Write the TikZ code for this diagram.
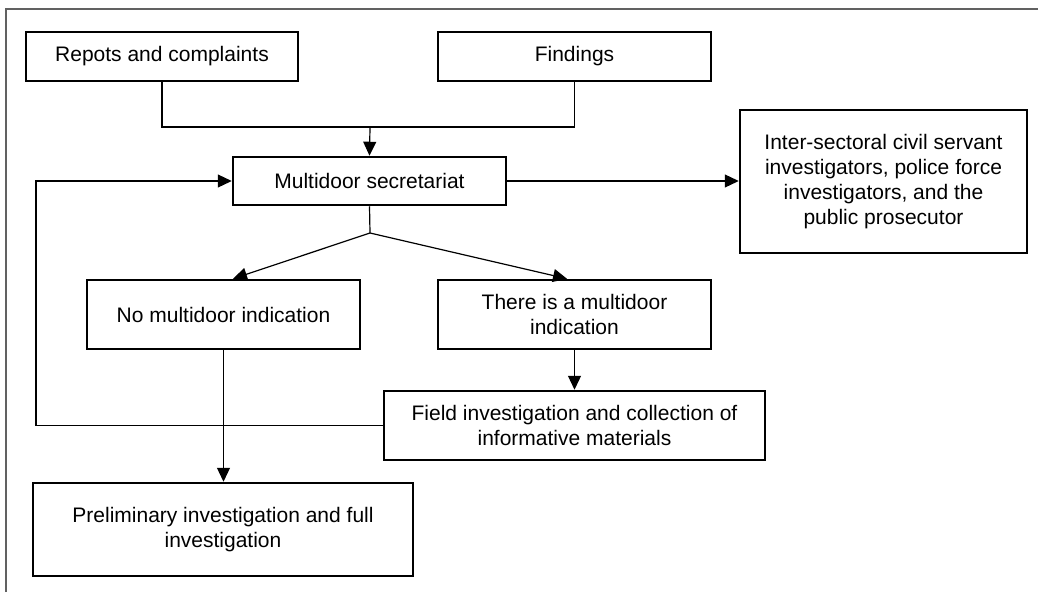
\documentclass[tikz,border=0pt]{standalone}
\usepackage{fontspec}
\setmainfont{Liberation Sans}
\usetikzlibrary{arrows.meta,calc}
\tikzset{
  box/.style={draw=black, line width=2.5pt, fill=white, inner sep=0pt,
    align=center, font=\fontsize{21}{25}\selectfont},
  link/.style={draw=black, line width=1.2pt},
  arr/.style={link, -{Triangle[length=14pt,width=13pt]}},
  frame/.style={draw=black!62, line width=1.7pt}
}
\begin{document}
\begin{tikzpicture}[x=1pt,y=-1pt]
\useasboundingbox (0,0) rectangle (1038,592);
\draw[frame] (6,592) -- (6,9) -- (1038,9);

% boxes
\node[box, minimum width=272pt, minimum height=49pt] (rep) at (162,56.5) {Repots and complaints};
\node[box, minimum width=273pt, minimum height=49pt] (find) at (574.5,56.5) {Findings};
\node[box, minimum width=273pt, minimum height=48pt] (ms) at (369.5,181) {Multidoor secretariat};
\node[box, minimum width=287pt, minimum height=143pt] (inter) at (883.5,181.5)
  {Inter-sectoral civil servant\\investigators, police force\\investigators, and the\\public prosecutor};
\node[box, minimum width=273pt, minimum height=69pt] (nomd) at (223.5,314.5) {No multidoor indication};
\node[box, minimum width=273pt, minimum height=69pt] (yesmd) at (574.5,314.5) {There is a multidoor\\indication};
\node[box, minimum width=381pt, minimum height=69pt] (field) at (574.5,425.5)
  {Field investigation and collection of\\informative materials};
\node[box, minimum width=380pt, minimum height=93pt] (prelim) at (223,529.5)
  {Preliminary investigation and full\\investigation};

% junction points
\coordinate (join) at (370,127);
\coordinate (split) at (370,233);
\coordinate (loop) at (36,0);

% connectors
\draw[link] (rep.south) |- (join) -| (find.south);
\draw[arr] (join) -- (ms.north);
\draw[arr] (ms.east) -- (ms.east -| inter.west);
\draw[link] (ms.south) -- (split);
\draw[arr] (split) -- ([xshift=9.5pt]nomd.north);
\draw[arr] (split) -- ([xshift=-7.5pt]yesmd.north);
\draw[arr] (nomd.south) -- (nomd.south |- prelim.north);
\draw[arr] (yesmd.south) -- (field.north);
\draw[arr] (field.west) -- (field.west -| loop) |- (ms.west);
\end{tikzpicture}
\end{document}
